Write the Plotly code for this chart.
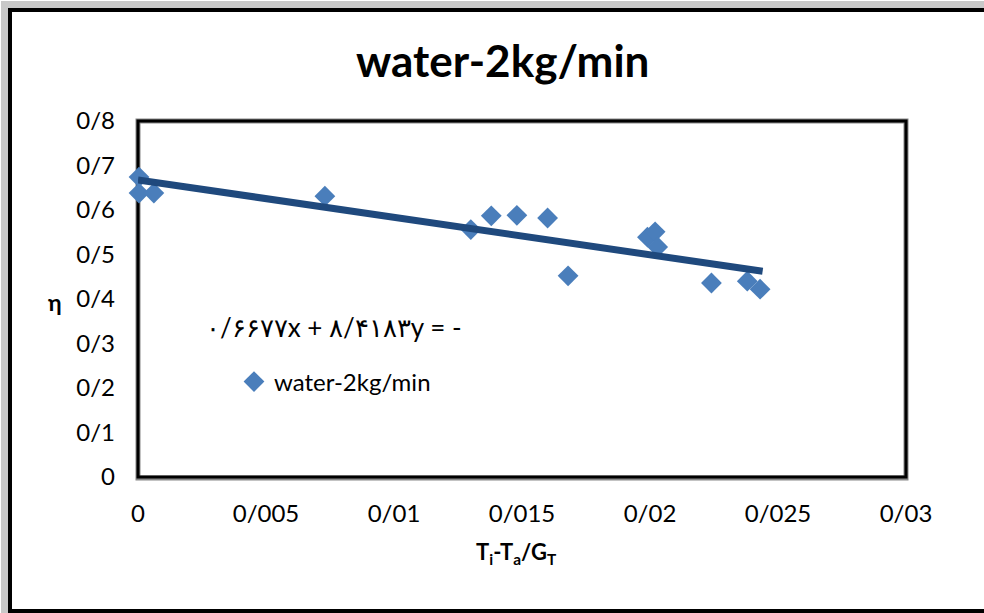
import plotly.graph_objects as go

# data
x_vals = [0.00004, 0.00004, 0.00062, 0.0073, 0.0130, 0.0138, 0.0148, 0.0160, 0.0168,
          0.0199, 0.0202, 0.0203, 0.0224, 0.0238, 0.0243]
y_vals = [0.674, 0.638, 0.638, 0.631, 0.556, 0.587, 0.588, 0.582, 0.452,
          0.539, 0.551, 0.517, 0.436, 0.440, 0.422]
series_name = "water-2kg/min"
slope = -8.4183
intercept = 0.6677
trend_x = [0.0, 0.0244]
trend_y = [slope * v + intercept for v in trend_x]

y_ticks = [0, 0.1, 0.2, 0.3, 0.4, 0.5, 0.6, 0.7, 0.8]
y_ticktext = ["0", "0/1", "0/2", "0/3", "0/4", "0/5", "0/6", "0/7", "0/8"]
x_ticks = [0, 0.005, 0.01, 0.015, 0.02, 0.025, 0.03]
x_ticktext = ["0", "0/005", "0/01", "0/015", "0/02", "0/025", "0/03"]
equation_text = "\u06f0/\u06f6\u06f6\u06f7\u06f7x + \u06f8/\u06f4\u06f1\u06f8\u06f3y = -"

FONT = "Lato, Open Sans, sans-serif"

# plot area in pixels
L, R, T, B = 138, 906, 121, 477
W, H = 984, 613
pw, ph = R - L, B - T

def px(xp):
    return (xp - L) / pw

def py(yp):
    return (B - yp) / ph

fig = go.Figure()
fig.add_trace(go.Scatter(
    x=x_vals, y=y_vals, mode="markers", name=series_name, cliponaxis=False,
    marker=dict(symbol="diamond", size=16, color="#4A7EBB"),
))
fig.add_trace(go.Scatter(
    x=trend_x, y=trend_y, mode="lines", showlegend=False, cliponaxis=False,
    line=dict(color="#1F497D", width=7),
))

shapes = [
    # outer shadow
    dict(type="rect", xref="paper", yref="paper", x0=px(5), x1=px(1000), y0=py(1000), y1=py(5),
         line=dict(color="#c8c8c8", width=8), layer="below"),
    # outer border
    dict(type="rect", xref="paper", yref="paper", x0=px(10), x1=px(1000), y0=py(611), y1=py(10),
         line=dict(color="black", width=4), layer="above"),
    # plot frame shadow
    dict(type="rect", xref="paper", yref="paper", x0=0, x1=1, y0=py(B + 1), y1=1,
         line=dict(color="#888888", width=5), layer="below"),
    dict(type="rect", xref="paper", yref="paper", x0=0, x1=1, y0=0, y1=1,
         line=dict(color="black", width=3), layer="below"),
]

annotations = [
    dict(text="<b>water-2kg/min</b>", xref="paper", yref="paper", x=px(502), y=py(60),
         showarrow=False, font=dict(family=FONT, size=44, color="black"), xanchor="center", yanchor="middle"),
    dict(text="<b>\u03b7</b>", xref="paper", yref="paper", x=px(55), y=py(302),
         showarrow=False, font=dict(family=FONT, size=23, color="black"), xanchor="center", yanchor="middle"),
    dict(text="<b>T<sub>i</sub>-T<sub>a</sub>/G<sub>T</sub></b>", xref="paper", yref="paper", x=px(516), y=py(553),
         showarrow=False, font=dict(family=FONT, size=22, color="black"), xanchor="center", yanchor="middle"),
    dict(text=equation_text, xref="paper", yref="paper", x=px(204), y=py(327),
         showarrow=False, font=dict(family=FONT, size=26, color="black"), xanchor="left", yanchor="middle"),
]

fig.update_layout(
    width=W, height=H,
    margin=dict(l=L, r=W - R, t=T, b=H - B),
    paper_bgcolor="white", plot_bgcolor="white",
    font=dict(family=FONT, size=24, color="black"),
    shapes=shapes, annotations=annotations,
    showlegend=True,
    legend=dict(x=px(234), y=py(382), xanchor="left", yanchor="middle",
                bgcolor="rgba(0,0,0,0)", font=dict(family=FONT, size=24, color="black"),
                itemsizing="trace"),
    xaxis=dict(range=[0, 0.03], tickvals=x_ticks, ticktext=x_ticktext, showgrid=False,
               zeroline=False, showline=False, ticks="", ticklabelstandoff=20),
    yaxis=dict(range=[0, 0.8], tickvals=y_ticks, ticktext=y_ticktext, showgrid=False,
               zeroline=False, showline=False, ticks="", ticklabelstandoff=22),
)

fig.write_html("out.html")
